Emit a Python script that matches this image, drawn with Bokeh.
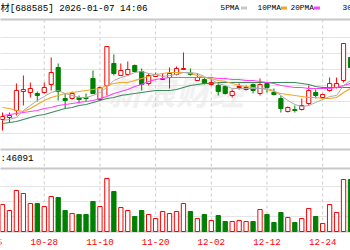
from bokeh.plotting import figure
from bokeh.models import Range1d, ColumnDataSource
from bokeh.core.properties import value
from bokeh.embed import file_html
from bokeh.resources import INLINE

# ---- data (price units, volume in hands) ----
opens = [81, 83, 90, 109, 108, 107, 108, 116, 133, 102, 102, 103, 103, 122, 101, 115, 137, 125, 126, 135,
         129, 117, 124, 121, 123, 126, 131, 127, 120, 121, 116, 115, 114, 105, 113, 111, 116, 107, 117, 108,
         102, 89, 91, 91, 97, 108, 103, 110, 113, 120, 143]
highs = [88, 88, 117, 125, 118, 109, 118, 143, 137, 107, 109, 105, 107, 130, 114, 154, 146, 137, 139, 136,
         132, 127, 128, 127, 133, 134, 148, 132, 127, 123, 123, 117, 115, 111, 117, 115, 117, 122, 118, 112,
         105, 94, 95, 102, 115, 111, 107, 123, 123, 157, 145]
lows = [70, 78, 85, 95, 103, 99, 107, 110, 100, 92, 101, 97, 99, 107, 100, 105, 125, 125, 125, 128,
        110, 115, 124, 121, 112, 125, 131, 125, 120, 116, 115, 105, 106, 103, 111, 110, 107, 105, 108, 105,
        88, 88, 88, 90, 95, 102, 103, 109, 112, 118, 130]
closes = [84, 85, 110, 111, 112, 105, 113, 128, 109, 100, 107, 101, 102, 107, 113, 154, 127, 130, 131, 129,
          116, 125, 126, 122, 127, 132, 132, 126, 123, 117, 118, 109, 107, 109, 114, 113, 110, 116, 113, 106,
          92, 93, 90, 95, 110, 105, 106, 117, 117, 157, 133]
volumes = [36000, 28000, 54700, 50700, 37300, 37300, 33300, 46700, 45300, 28000, 24000, 22700, 22700, 40000,
           33300, 70700, 53300, 32000, 28000, 20000, 28000, 22700, 17300, 26700, 24000, 26700, 37300, 26700,
           17300, 22700, 14700, 21300, 13300, 13300, 14700, 13300, 13300, 29300, 22700, 12000, 25300, 18700,
           12000, 17300, 30700, 20000, 10700, 36000, 25300, 69300, 69300]
ma5 = [80, 81, 83, 90, 95, 100, 104, 108, 110, 107, 105, 103, 103, 105, 108, 113, 120, 123, 125, 128, 129,
       127, 126, 124, 125, 126, 128, 128, 127, 124, 121, 117, 115, 112, 112, 112, 112, 112, 112, 110, 105,
       100, 96, 94, 95, 98, 101, 104, 105, 115, 120]
ma10 = [93, 92, 90, 89, 92, 96, 100, 103, 105, 107, 108, 109, 110, 111, 112, 115, 117, 118, 118, 120, 122,
        124, 126, 127, 128, 128, 128, 127, 125, 123, 122, 120, 119, 117, 115, 114, 113, 112, 111, 109, 107,
        106, 105, 104, 103, 103, 102, 102, 103, 108, 112]
ma20 = [85, 86, 87, 88, 89, 90, 92, 93, 95, 96, 97, 98, 99, 100, 102, 104, 107, 109, 111, 114, 116, 119,
        121, 122, 123, 123, 123, 123, 123, 123, 123, 122, 122, 121, 121, 120, 120, 119, 118, 117, 115, 114,
        113, 113, 112, 112, 112, 112, 113, 115, 117]
ma30 = [77, 78, 79, 81, 83, 85, 86, 88, 90, 92, 93, 95, 96, 98, 100, 102, 103, 105, 106, 107, 108, 109,
        110, 110, 110, 111, 113, 115, 116, 117, 117, 118, 118, 118, 118, 118, 118, 118, 118, 118, 118, 118,
        118, 117, 116, 114, 113, 113, 113, 113, 113]
date_ticks = [-2, 6, 14, 22, 30, 38, 46]
date_labels = ["10-15", "10-28", "11-10", "11-20", "12-02", "12-12", "12-24"]
price_grid = [163, 147, 131, 115, 99, 83, 67]
vol_grid = [60000, 40000, 20000]
title_text = "材[688585] 2026-01-07 14:06"
vol_text = ":46091"
ma_names = ["5PMA", "10PMA", "20PMA", "30PMA"]
ma_colors = ["#c8c8c8", "#f5a623", "#ff40ff", "#3c8c5a"]
watermark = "新浪财经"

# ---- layout constants (price units on main y-range; 1 unit = 1px) ----
PRICE_TOP = 181
PRICE_BOTTOM = 51
VOL_TOP = 84000
VOL_BASE = 0
HEADER_Y = 192.5
DATE_Y = -41
VOL_LABEL_Y = 42

MONO = value("Liberation Mono, Noto Sans CJK SC")
RED = "#ff0000"
GREEN = "#008000"

p = figure(width=350, height=250, x_range=Range1d(-0.287, 50.0), y_range=Range1d(-50, 200),
           x_axis_type=None, y_axis_type=None, output_backend="svg", toolbar_location=None,
           min_border=0, outline_line_color=None, background_fill_color="white")
p.extra_y_ranges = {"vol": Range1d(-25333.33, 308000)}
p.xgrid.visible = False
p.ygrid.visible = False

n = len(opens)
idx = list(range(n))
x_lo, x_hi = -2, 52

# watermark
p.text(x=[24.9], y=[110], text=[watermark], text_font=value("Noto Sans CJK SC"), text_font_size="34px",
       text_font_style="bold italic", text_color="#f1f1f1", text_align="center", text_baseline="middle")

# horizontal grid lines
p.segment(x0=[x_lo] * len(price_grid), x1=[x_hi] * len(price_grid), y0=price_grid, y1=price_grid,
          line_color="#e4e4e4", line_width=1)
p.segment(x0=[x_lo] * len(vol_grid), x1=[x_hi] * len(vol_grid), y0=vol_grid, y1=vol_grid,
          line_color="#e4e4e4", line_width=1, y_range_name="vol")
p.segment(x0=[x_lo, x_lo], x1=[x_hi, x_hi], y0=[PRICE_TOP, PRICE_BOTTOM], y1=[PRICE_TOP, PRICE_BOTTOM],
          line_color="#c8c8c8", line_width=2)
p.segment(x0=[x_lo, x_lo], x1=[x_hi, x_hi], y0=[VOL_TOP, VOL_BASE], y1=[VOL_TOP, VOL_BASE],
          line_color="#c8c8c8", line_width=2, y_range_name="vol")

# vertical dashed lines
p.segment(x0=date_ticks, x1=date_ticks, y0=[PRICE_TOP] * len(date_ticks), y1=[-31] * len(date_ticks),
          line_color="#cccccc", line_width=1, line_dash="3 3")

# candles
up = [c >= o for o, c in zip(opens, closes)]
def sel(flag):
    ii = [i for i in idx if up[i] == flag]
    return ColumnDataSource(dict(
        x=ii,
        hi=[highs[i] for i in ii], lo=[lows[i] for i in ii],
        top=[max(opens[i], closes[i]) for i in ii], bot=[min(opens[i], closes[i]) for i in ii],
        vol=[volumes[i] for i in ii]))
src_up = sel(True)
src_dn = sel(False)

p.segment(x0="x", x1="x", y0="hi", y1="lo", source=src_up, line_color=RED, line_width=1)
p.vbar(x="x", top="top", bottom="bot", width=0.6, source=src_up, fill_color="white", line_color=RED, line_width=1)
p.segment(x0="x", x1="x", y0="hi", y1="lo", source=src_dn, line_color=GREEN, line_width=1)
p.vbar(x="x", top="top", bottom="bot", width=0.6, source=src_dn, fill_color=GREEN, line_color=GREEN, line_width=1)

# moving averages
p.line(idx, ma30, line_color=ma_colors[3], line_width=1.2)
p.line(idx, ma20, line_color=ma_colors[2], line_width=1.2)
p.line(idx, ma10, line_color=ma_colors[1], line_width=1.2)
p.line(idx, ma5, line_color="#aaaaaa", line_width=1)

# volume bars
p.vbar(x="x", top="vol", bottom=0, width=0.62, source=src_up, fill_color="white", line_color=RED,
       line_width=1, y_range_name="vol")
p.vbar(x="x", top="vol", bottom=0, width=0.62, source=src_dn, fill_color=GREEN, line_color=GREEN,
       line_width=1, y_range_name="vol")

# texts
p.text(x=[-0.287], y=[HEADER_Y], text=[title_text], text_font=MONO, text_font_size="9.2px",
       text_color="black", text_align="left", text_baseline="middle")
leg_x = [31.32, 36.64, 41.38, 48.85]
p.text(x=leg_x, y=[HEADER_Y] * 4, text=ma_names, text_font=MONO, text_font_size="7.8px",
       text_color="black", text_align="left", text_baseline="middle")
p.rect(x=[34.7, 40.44, 45.19], y=[HEADER_Y] * 3, width=6, height=3, width_units="screen",
       height_units="screen", fill_color=ma_colors[:3], line_color=None)
p.text(x=[-0.287], y=[VOL_LABEL_Y], text=[vol_text], text_font=MONO, text_font_size="9.2px",
       text_color="black", text_align="left", text_baseline="middle")
p.text(x=date_ticks, y=[DATE_Y] * len(date_ticks), text=date_labels, text_font=MONO,
       text_font_size="9.2px", text_color=RED, text_align="center", text_baseline="middle")

open("out.html", "w").write(file_html(p, INLINE))
